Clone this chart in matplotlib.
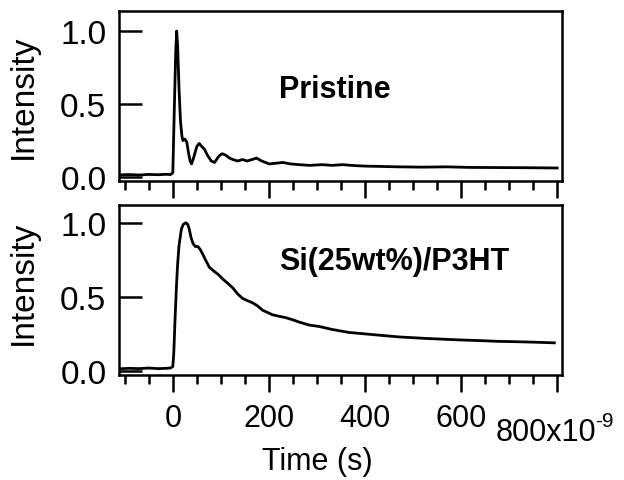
import matplotlib
matplotlib.use("Agg")
import matplotlib.pyplot as plt
from matplotlib.ticker import MultipleLocator, FixedLocator, FixedFormatter

plt.rcParams['font.family'] = ['Liberation Sans', 'DejaVu Sans']
plt.rcParams['axes.unicode_minus'] = False

# ===================== data (time in ns, normalised intensity) =====================
t_pristine = [-110, -90, -70, -50, -30, -15, -5, 0, 3, 6, 8, 10, 13, 16, 19, 21,
              25, 29, 33, 36, 39, 44, 50, 55, 60, 66, 72, 80, 87, 93, 98, 103,
              110, 118, 125, 135, 145, 155, 165, 174, 185, 201, 215, 229, 245,
              263, 285, 310, 332, 353, 380, 401, 430, 470, 520, 570, 620, 680,
              740, 800]
i_pristine = [0.015, 0.017, 0.014, 0.018, 0.016, 0.019, 0.017, 0.03, 0.45, 0.85,
              1.0, 0.9, 0.6, 0.38, 0.28, 0.25, 0.26, 0.24, 0.16, 0.11, 0.09,
              0.14, 0.21, 0.23, 0.21, 0.19, 0.15, 0.11, 0.10, 0.13, 0.15, 0.16,
              0.15, 0.13, 0.12, 0.11, 0.12, 0.11, 0.12, 0.13, 0.11, 0.09, 0.095,
              0.10, 0.09, 0.085, 0.08, 0.085, 0.08, 0.085, 0.078, 0.075, 0.073,
              0.07, 0.068, 0.07, 0.066, 0.065, 0.064, 0.062]

t_blend = [-110, -90, -70, -50, -30, -15, -5, 0, 2, 5, 8, 10, 13, 18, 22, 27,
           31, 34, 38, 42, 47, 52, 57, 62, 68, 76, 87, 95, 104, 115, 125, 135,
           145, 155, 166, 176, 187, 197, 207, 220, 235, 250, 263, 284, 305, 332,
           367, 401, 435, 470, 525, 560, 594, 640, 677, 710, 746, 794]
i_blend = [0.015, 0.018, 0.016, 0.02, 0.016, 0.018, 0.02, 0.03, 0.12, 0.38,
           0.6, 0.72, 0.85, 0.96, 0.99, 1.0, 0.99, 0.96, 0.9, 0.86, 0.84, 0.84,
           0.82, 0.79, 0.75, 0.70, 0.67, 0.65, 0.62, 0.59, 0.56, 0.52, 0.49,
           0.475, 0.46, 0.44, 0.41, 0.395, 0.38, 0.37, 0.36, 0.345, 0.33, 0.31,
           0.30, 0.28, 0.26, 0.25, 0.24, 0.23, 0.22, 0.215, 0.21, 0.205, 0.20,
           0.198, 0.195, 0.19]

panels = [(t_pristine, i_pristine, 'Pristine', 0.55, (-0.027, 1.137)),
          (t_blend, i_blend, 'Si(25wt%)/P3HT', 0.69, (-0.027, 1.12))]

x_ticks = [0, 200, 400, 600, 800]
x_labels = ['0', '200', '400', '600', '']  # last one drawn by hand (Igor style)

# ===================== figure =====================
fig = plt.figure(figsize=(6.24, 4.81), dpi=100)
ax_top = fig.add_axes([0.1907, 0.6216, 0.710, 0.3534])
ax_bot = fig.add_axes([0.1907, 0.2183, 0.710, 0.3534], sharex=ax_top)

for ax, (t, y, name, ty, ylim) in zip([ax_top, ax_bot], panels):
    ax.plot(t, y, color='black', linewidth=2.0)
    ax.set_ylim(*ylim)
    ax.set_xlim(-112, 810)
    for sp in ax.spines.values():
        sp.set_linewidth(1.8)
    ax.yaxis.set_major_locator(FixedLocator([0.0, 0.5, 1.0]))
    ax.yaxis.set_major_formatter(FixedFormatter(['0.0', '0.5', '1.0']))
    ax.tick_params(axis='y', direction='in', length=16.5, width=1.8,
                   labelsize=24, pad=9)
    ax.tick_params(axis='x', which='major', direction='out', length=12,
                   width=1.8, labelsize=22, pad=8)
    ax.tick_params(axis='x', which='minor', direction='out', length=6.5,
                   width=1.8)
    ax.set_ylabel('Intensity', fontsize=24)
    ax.text(222, ty, name, fontsize=22, fontweight='bold', ha='left',
            va='baseline')

ax_bot.xaxis.set_major_locator(FixedLocator(x_ticks))
ax_bot.xaxis.set_major_formatter(FixedFormatter(x_labels))
ax_bot.xaxis.set_minor_locator(MultipleLocator(50))
ax_top.tick_params(axis='x', labelbottom=False)

# last tick label with the exponent, a bit lower like in Igor
xt = ax_bot.get_xaxis_transform()
ax_bot.annotate('800x10', xy=(x_ticks[-1], 0), xycoords=xt,
                xytext=(-8, -47), textcoords='offset points',
                ha='center', va='baseline', fontsize=22)
ax_bot.annotate('-9', xy=(x_ticks[-1], 0), xycoords=xt,
                xytext=(27.5, -37), textcoords='offset points',
                ha='left', va='baseline', fontsize=15)

ax_top.yaxis.set_label_coords(-0.181, 0.5)
ax_bot.yaxis.set_label_coords(-0.181, 0.55)

ax_bot.set_xlabel('Time (s)', fontsize=22)
ax_bot.xaxis.set_label_coords(0.447, -0.42)

fig.savefig('out.png', dpi=100)
